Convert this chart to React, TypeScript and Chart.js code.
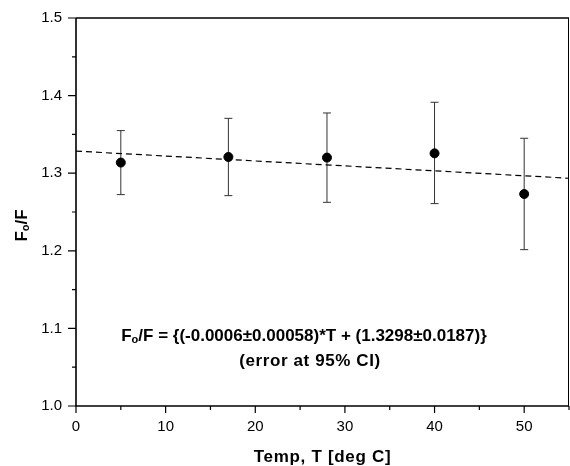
import React, { useEffect, useRef } from "react";
import { Chart, registerables } from "chart.js";

Chart.register(...registerables);

const temps = [5, 17, 28, 40, 50];
const ratio = [1.3137, 1.3209, 1.3201, 1.3256, 1.2732];
const errUpper = [1.3549, 1.3707, 1.3776, 1.3914, 1.345];
const errLower = [1.2724, 1.2711, 1.2625, 1.2608, 1.2015];
const fitT = [0, 55];
const fitY = [1.3285, 1.2935];
const xMajorTicks = [0, 10, 20, 30, 40, 50];
const yMajorTicks = [1.0, 1.1, 1.2, 1.3, 1.4, 1.5];
const eqLine1Rest = "/F = {(-0.0006\u00b10.00058)*T + (1.3298\u00b10.0187)}";
const eqLine2 = "(error at 95% CI)";
const xTitle = "Temp, T [deg C]";

const FONT = "'Liberation Sans', Arial, sans-serif";

const drawPlugin = {
  id: "custom",
  beforeDatasetsDraw(chart: any) {
    const ctx = chart.ctx;
    const xs = chart.scales.x;
    const ys = chart.scales.y;
    ctx.save();
    ctx.strokeStyle = "#333";
    ctx.lineWidth = 1;
    for (let i = 0; i < temps.length; i++) {
      const x = xs.getPixelForValue(temps[i]);
      const yT = ys.getPixelForValue(errUpper[i]);
      const yB = ys.getPixelForValue(errLower[i]);
      ctx.beginPath();
      ctx.moveTo(x, yT);
      ctx.lineTo(x, yB);
      ctx.moveTo(x - 4, yT);
      ctx.lineTo(x + 4, yT);
      ctx.moveTo(x - 4, yB);
      ctx.lineTo(x + 4, yB);
      ctx.stroke();
    }
    ctx.restore();
  },
  afterDraw(chart: any) {
    const ctx = chart.ctx;
    const a = chart.chartArea;
    const xs = chart.scales.x;
    const ys = chart.scales.y;
    ctx.save();
    ctx.strokeStyle = "#000";
    ctx.lineWidth = 1.6;
    ctx.beginPath();
    ctx.moveTo(a.left, a.top);
    ctx.lineTo(a.left, a.bottom);
    ctx.lineTo(a.right, a.bottom);
    ctx.moveTo(a.left, a.top);
    ctx.lineTo(a.right, a.top);
    ctx.stroke();
    ctx.lineWidth = 1;
    ctx.beginPath();
    ctx.moveTo(a.right - 0.5, a.top);
    ctx.lineTo(a.right - 0.5, a.bottom);
    ctx.stroke();
    ctx.lineWidth = 1.2;
    ctx.beginPath();
    for (let i = 0; i < xMajorTicks.length; i++) {
      const v = xMajorTicks[i];
      const p = xs.getPixelForValue(v);
      ctx.moveTo(p, a.bottom);
      ctx.lineTo(p, a.bottom + 7);
      const m = xs.getPixelForValue(v + 5);
      ctx.moveTo(m, a.bottom);
      ctx.lineTo(m, a.bottom + 4);
    }
    for (let i = 0; i < yMajorTicks.length; i++) {
      const v = yMajorTicks[i];
      const p = ys.getPixelForValue(v);
      ctx.moveTo(a.left, p);
      ctx.lineTo(a.left - 8, p);
      if (i < yMajorTicks.length - 1) {
        const m = ys.getPixelForValue(v + 0.05);
        ctx.moveTo(a.left, m);
        ctx.lineTo(a.left - 4, m);
      }
    }
    ctx.stroke();

    ctx.fillStyle = "#000";
    ctx.textBaseline = "alphabetic";
    const big = "bold 17px " + FONT;
    const small = "bold 11px " + FONT;
    ctx.font = big;
    const wF = ctx.measureText("F").width;
    const wRest = ctx.measureText(eqLine1Rest).width;
    ctx.font = small;
    const wo = ctx.measureText("o").width;
    const total = wF + wo + wRest;
    const cx = 304;
    const x0 = cx - total / 2;
    ctx.textAlign = "left";
    ctx.font = big;
    ctx.fillText("F", x0, 340.5);
    ctx.font = small;
    ctx.fillText("o", x0 + wF, 343);
    ctx.font = big;
    ctx.fillText(eqLine1Rest, x0 + wF + wo, 340.5);
    ctx.textAlign = "center";
    (ctx as any).letterSpacing = "0.6px";
    ctx.fillText(eqLine2, 310, 365.5);
    (ctx as any).letterSpacing = "0.7px";
    ctx.fillText(xTitle, (a.left + a.right) / 2, 461.5);
    (ctx as any).letterSpacing = "0px";

    ctx.save();
    ctx.translate(27, 225.5);
    ctx.rotate(-Math.PI / 2);
    ctx.textAlign = "left";
    ctx.font = big;
    const wF2 = ctx.measureText("F").width;
    const wSl = ctx.measureText("/F").width;
    ctx.font = small;
    const wo2 = ctx.measureText("o").width;
    const t2 = wF2 + wo2 + wSl;
    const s = -t2 / 2;
    ctx.font = big;
    ctx.fillText("F", s, 0);
    ctx.font = small;
    ctx.fillText("o", s + wF2, 2);
    ctx.font = big;
    ctx.fillText("/F", s + wF2 + wo2, 0);
    ctx.restore();

    ctx.restore();
  },
};

export default function App() {
  const ref = useRef<HTMLCanvasElement | null>(null);
  useEffect(() => {
    if (!ref.current) return;
    const chart = new Chart(ref.current, {
      type: "scatter",
      data: {
        datasets: [
          {
            label: "fit",
            type: "line",
            data: fitT.map((t, i) => ({ x: t, y: fitY[i] })),
            borderColor: "#000",
            borderWidth: 1.2,
            borderDash: [6, 4],
            pointRadius: 0,
            fill: false,
          } as any,
          {
            label: "Fo/F",
            data: temps.map((t, i) => ({ x: t, y: ratio[i] })),
            backgroundColor: "#000",
            borderColor: "#000",
            pointRadius: 4.5,
            pointHoverRadius: 4.5,
          },
        ],
      },
      options: {
        animation: false,
        responsive: false,
        maintainAspectRatio: false,
        layout: { autoPadding: false, padding: { left: 0, top: 18, right: 1, bottom: 0 } },
        plugins: {
          legend: { display: false },
          tooltip: { enabled: false },
        },
        scales: {
          x: {
            type: "linear",
            min: 0,
            max: 55,
            afterFit: (s: any) => {
              s.height = 60;
              s.paddingLeft = 0;
              s.paddingRight = 0;
            },
            grid: { display: false, drawTicks: false },
            border: { display: false },
            ticks: {
              stepSize: 5,
              padding: 12,
              color: "#000",
              font: { family: FONT, size: 15 },
              callback: (v: any) => (Math.round(v) % 10 === 0 ? String(Math.round(v)) : ""),
              maxRotation: 0,
              autoSkip: false,
            },
          },
          y: {
            type: "linear",
            min: 1.0,
            max: 1.5,
            afterFit: (s: any) => {
              s.width = 76;
              s.paddingTop = 0;
              s.paddingBottom = 0;
            },
            grid: { display: false, drawTicks: false },
            border: { display: false },
            ticks: {
              stepSize: 0.1,
              padding: 14,
              color: "#000",
              font: { family: FONT, size: 15 },
              callback: (v: any) => Number(v).toFixed(1),
            },
          },
        },
      },
      plugins: [drawPlugin],
    });
    return () => chart.destroy();
  }, []);
  return (
    <div style={{ position: "fixed", left: 0, top: 0, width: 570, height: 466, background: "#fff" }}>
      <canvas ref={ref} width={570} height={466} style={{ width: 570, height: 466 }} />
    </div>
  );
}
